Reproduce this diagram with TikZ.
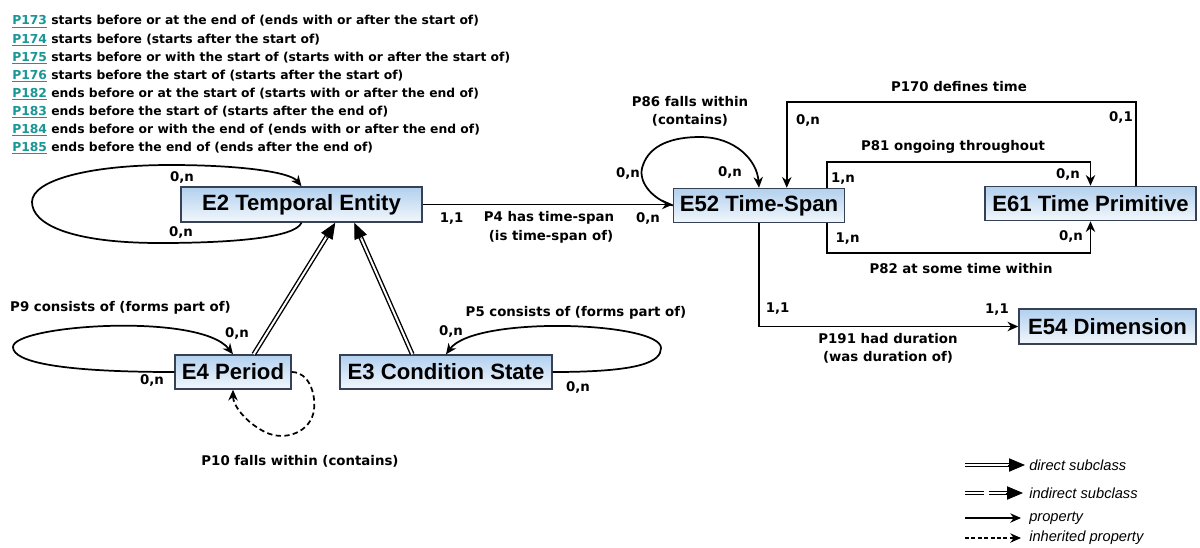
\documentclass[tikz,border=0pt]{standalone}
\usepackage{fontspec}
\setmainfont{DejaVu Sans}
\newfontfamily\boxfont{Liberation Sans}
\newfontfamily\legfont{Liberation Sans}
\usetikzlibrary{arrows.meta,calc}
\definecolor{boxtop}{RGB}{178,208,238}
\definecolor{boxbot}{RGB}{242,247,252}
\definecolor{boxline}{RGB}{55,65,85}
\definecolor{linkc}{RGB}{26,150,150}
\newcommand{\plink}[1]{\textcolor{linkc}{\underline{#1}}}
\begin{document}
\begin{tikzpicture}[x=0.75pt,y=-0.75pt,
  cbox/.style={draw=boxline,line width=1.1pt,top color=boxtop,bottom color=boxbot,
    inner sep=0pt,minimum height=26.25pt,font=\boxfont\bfseries\fontsize{16.6}{18}\selectfont},
  lbl/.style={inner sep=0pt,font=\bfseries\fontsize{10}{12}\selectfont},
  hdr/.style={inner sep=0pt,anchor=west,font=\bfseries\fontsize{9.25}{11}\selectfont},
  leg/.style={inner sep=0pt,anchor=west,font=\legfont\itshape\fontsize{11}{13}\selectfont},
  prop/.style={draw,line width=1.3pt,-{Stealth[length=8pt,width=7pt,inset=2.5pt]}},
  iprop/.style={prop,dash pattern=on 4pt off 2.5pt},
  dline/.style={draw,line width=1.05pt,double,double distance=1.5pt},
  dtip/.style={draw,line width=0.6pt,-{Triangle[length=12pt,width=10pt]}}
]
\useasboundingbox (0,0) rectangle (1200,547);

% header lines
\node[hdr] (h1) at (12,21.7) {\plink{P173} starts before or at the end of (ends with or after the start of)};
\node[hdr] (h2) at (12,39.7) {\plink{P174} starts before (starts after the start of)};
\node[hdr] (h3) at (12,57.8) {\plink{P175} starts before or with the start of (starts with or after the start of)};
\node[hdr] (h4) at (12,75.8) {\plink{P176} starts before the start of (starts after the start of)};
\node[hdr] (h5) at (12,93.8) {\plink{P182} ends before or at the start of (starts with or after the end of)};
\node[hdr] (h6) at (12,111.9) {\plink{P183} ends before the start of (starts after the end of)};
\node[hdr] (h7) at (12,130) {\plink{P184} ends before or with the end of (ends with or after the end of)};
\node[hdr] (h8) at (12,148) {\plink{P185} ends before the end of (ends after the end of)};

% class boxes
\node[cbox,minimum width=180.75pt] (e2) at (301.5,204.5) {E2 Temporal Entity};
\node[cbox,minimum width=128.25pt,minimum height=25.5pt] (e52) at (759,205.5) {E52 Time-Span};
\node[cbox,minimum width=158.25pt,minimum height=25.5pt] (e61) at (1090.5,203.5) {E61 Time Primitive};
\node[cbox,minimum width=132.75pt] (e54) at (1107.5,326.5) {E54 Dimension};
\node[cbox,minimum width=87pt,minimum height=25.5pt] (e4) at (233,372) {E4 Period};
\node[cbox,minimum width=159pt,minimum height=25.5pt] (e3) at (446,372) {E3 Condition State};

% E2 self loop (P173 ...)
\draw[prop] (e2.south) .. controls (295,238) and (230,243) .. (160,243)
  .. controls (70,243) and (32,224) .. (32,202)
  .. controls (32,180) and (90,165) .. (170,165)
  .. controls (240,165) and (290,172) .. (e2.north);
\node[lbl] (c1) at (182,177) {0,n};
\node[lbl] (c2) at (181,232) {0,n};

% P4
\draw[prop] (e2.east) -- (e2.east -| e52.west);
\node[lbl] (c3) at (451.7,218.3) {1,1};
\node[lbl] (c4) at (549,218.3) {P4 has time-span};
\node[lbl] (c5) at (551,236.7) {(is time-span of)};
\node[lbl] (c6) at (648,218.3) {0,n};

% P86 loop
\draw[prop] (e52.west) .. controls (650,198) and (637,180) .. (643,165)
  .. controls (650,145) and (672,137) .. (700,137)
  .. controls (735,137) and (757,160) .. (e52.north);
\node[lbl] (c7) at (690,101.7) {P86 falls within};
\node[lbl] (c8) at (690,120.7) {(contains)};
\node[lbl] (c9) at (628,173) {0,n};
\node[lbl] (c10) at (730,172) {0,n};

% P170
\coordinate (y170) at (0,101.7);
\coordinate (p170s) at ($(e61.north west)+(152,0)$);
\coordinate (p170e) at ($(e52.north west)+(114,0)$);
\draw[prop] (p170s) -- (p170s |- y170) -| (p170e);
\node[lbl] (c11) at (959,87) {P170 defines time};
\node[lbl] (c12) at (808,120) {0,n};
\node[lbl] (c13) at (1121,117) {0,1};

% P81
\coordinate (y81) at (0,161.7);
\coordinate (p81s) at ($(e52.north west)+(154,0)$);
\draw[prop] (p81s) -- (p81s |- y81) -| (e61.north);
\node[lbl] (c14) at (953,147) {P81 ongoing throughout};
\node[lbl] (c15) at (843,179) {1,n};
\node[lbl] (c16) at (1068,174) {0,n};

% P82
\coordinate (y82) at (0,252.7);
\coordinate (p82s) at ($(e52.south west)+(154,0)$);
\draw[prop] (p82s) -- (p82s |- y82) -| (e61.south);
\node[lbl] (c17) at (961,268.7) {P82 at some time within};
\node[lbl] (c18) at (847.6,239) {1,n};
\node[lbl] (c19) at (1071,236) {0,n};

% P191
\draw[prop] (e52.south) |- (e54.west);
\node[lbl] (c20) at (777.6,309) {1,1};
\node[lbl] (c21) at (997,310) {1,1};
\node[lbl] (c22) at (888,339) {P191 had duration};
\node[lbl] (c23) at (888,357) {(was duration of)};

% P9 loop on E4
\draw[prop] (e4.west) .. controls (60,372) and (13,362) .. (13,347)
  .. controls (13,325) and (200,312) .. (e4.north);
\node[lbl] (c24) at (120.5,308) {P9 consists of (forms part of)};
\node[lbl] (c25) at (237,333) {0,n};
\node[lbl] (c26) at (152,380) {0,n};

% P5 loop on E3
\draw[prop] (e3.east) .. controls (640,372) and (661,362) .. (661,348)
  .. controls (661,322) and (475,315) .. (e3.north);
\node[lbl] (c27) at (576,313) {P5 consists of (forms part of)};
\node[lbl] (c28) at (451,331) {0,n};
\node[lbl] (c29) at (578,387) {0,n};

% P10 inherited loop on E4
\draw[iprop] (e4.east) .. controls (308,372) and (316,392) .. (314,410)
  .. controls (311,432) and (285,442) .. (265,432)
  .. controls (245,422) and (233,405) .. (e4.south);
\node[lbl] (c30) at (300,461.7) {P10 falls within (contains)};

% subclass arrows
\coordinate (s1) at ($(e4.north west)+(79.5,0)$);
\coordinate (t1) at ($(e2.south west)+(155,0)$);
\coordinate (s2) at ($(e3.north west)+(73,0)$);
\coordinate (t2) at ($(e2.south west)+(174,0)$);
\draw[dline] (s1) -- ($(t1)!11pt!(s1)$);
\draw[dtip] ($(t1)!13pt!(s1)$) -- (t1);
\draw[dline] (s2) -- ($(t2)!11pt!(s2)$);
\draw[dtip] ($(t2)!13pt!(s2)$) -- (t2);

% legend
\coordinate (la1) at (965,465); \coordinate (lb1) at (1025,465);
\coordinate (la2) at (965,493); \coordinate (lb2) at (1023,493);
\coordinate (la3) at (965,518); \coordinate (lb3) at (1021,518);
\coordinate (la4) at (965,538); \coordinate (lb4) at (1021,538);
\draw[dline] (la1) -- ($(lb1)!11pt!(la1)$);
\draw[dtip] ($(lb1)!13pt!(la1)$) -- (lb1);
\draw[dline,dash pattern=on 14.5pt off 3.5pt] (la2) -- ($(lb2)!11pt!(la2)$);
\draw[dtip] ($(lb2)!13pt!(la2)$) -- (lb2);
\draw[prop,line width=1pt] (la3) -- (lb3);
\draw[iprop,line width=1pt,dash pattern=on 3pt off 1.8pt] (la4) -- (lb4);
\node[leg] (g1) at (1029,465) {direct subclass};
\node[leg] (g2) at (1029,493) {indirect subclass};
\node[leg] (g3) at (1029,518) {property};
\node[leg] (g4) at (1029,538) {inherited property};
\end{tikzpicture}
\end{document}
